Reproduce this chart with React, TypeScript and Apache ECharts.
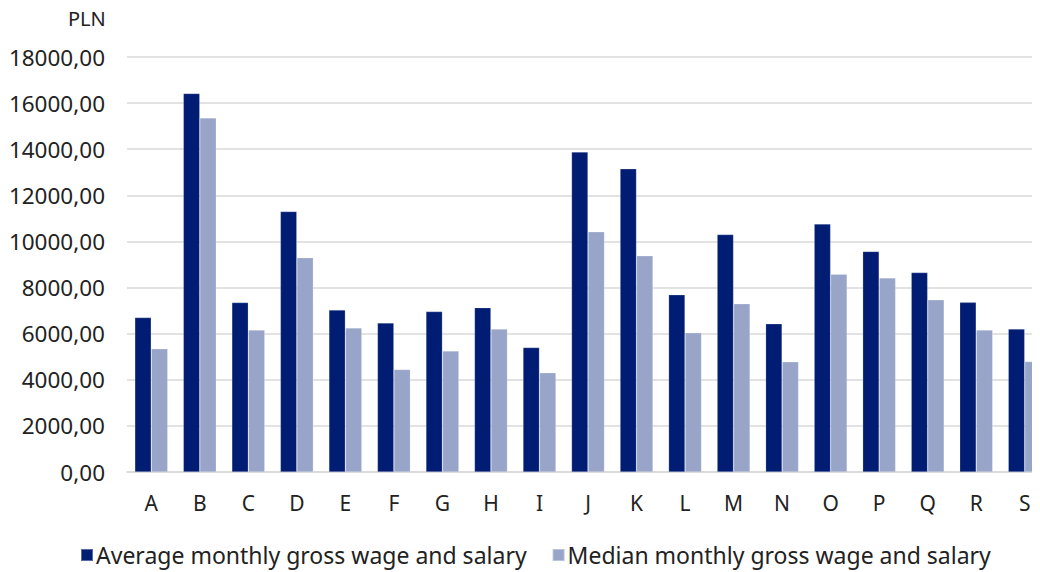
import React, { useEffect, useRef } from "react";
import * as echarts from "echarts";

const categories = ["A","B","C","D","E","F","G","H","I","J","K","L","M","N","O","P","Q","R","S"];
const averageWage = [6700,16420,7350,11300,7030,6470,6960,7130,5400,13880,13150,7690,10300,6430,10760,9570,8650,7360,6200];
const medianWage = [5350,15360,6160,9300,6250,4450,5250,6200,4310,10420,9380,6040,7300,4780,8580,8420,7470,6160,4790];
const yTicks = { min: 0, max: 18000, interval: 2000 };
const FONT = "'Noto Sans', sans-serif";

export default function App() {
  const ref = useRef<HTMLDivElement>(null);
  useEffect(() => {
    if (!ref.current) return;
    const chart = echarts.init(ref.current, null, { renderer: "svg" });
    chart.setOption({
      animation: false,
      textStyle: { fontFamily: FONT },
      grid: { left: 127, top: 57, width: 922, bottom: 100, containLabel: false },
      graphic: [
        { type: "text", left: 68, top: 8, style: { text: "PLN", font: `20px ${FONT}`, fill: "#222" } },
      ],
      legend: {
        left: 80,
        top: 542,
        padding: 0,
        icon: "rect",
        itemWidth: 12,
        itemHeight: 12,
        itemGap: 25,
        textStyle: { fontFamily: FONT, fontSize: 23, lineHeight: 26, color: "#222", padding: [0, 0, 0, -2] },
        data: ["Average monthly gross wage and salary", "Median monthly gross wage and salary"],
      },
      xAxis: {
        type: "category",
        data: categories,
        axisLine: { show: true, lineStyle: { color: "#d9d9d9", width: 1.5 } },
        axisTick: { show: false },
        axisLabel: { fontFamily: FONT, fontSize: 21, color: "#222", margin: 20 },
      },
      yAxis: {
        type: "value",
        min: yTicks.min,
        max: yTicks.max,
        interval: yTicks.interval,
        axisLine: { show: false },
        axisTick: { show: false },
        splitLine: { lineStyle: { color: "#d9d9d9", width: 1.5 } },
        axisLabel: {
          fontFamily: FONT,
          fontSize: 22.5,
          color: "#222",
          margin: 22,
          formatter: (v: number) => v.toFixed(2).replace(".", ","),
        },
      },
      series: [
        {
          name: "Average monthly gross wage and salary",
          type: "bar",
          data: averageWage,
          barWidth: 16.5,
          barGap: "0%",
          itemStyle: { color: "#001c73", borderColor: "rgba(255,255,255,0.35)", borderWidth: 0.6 },
        },
        {
          name: "Median monthly gross wage and salary",
          type: "bar",
          data: medianWage,
          barWidth: 16.5,
          itemStyle: { color: "#99a5c8", borderColor: "rgba(255,255,255,0.35)", borderWidth: 0.6 },
        },
      ],
    });
    return () => chart.dispose();
  }, []);
  return (
    <div style={{ width: 1040, height: 572, marginLeft: -8, marginTop: -8, overflow: "hidden", position: "relative" }}>
      <div ref={ref} style={{ width: 1052, height: 572 }} />
    </div>
  );
}
